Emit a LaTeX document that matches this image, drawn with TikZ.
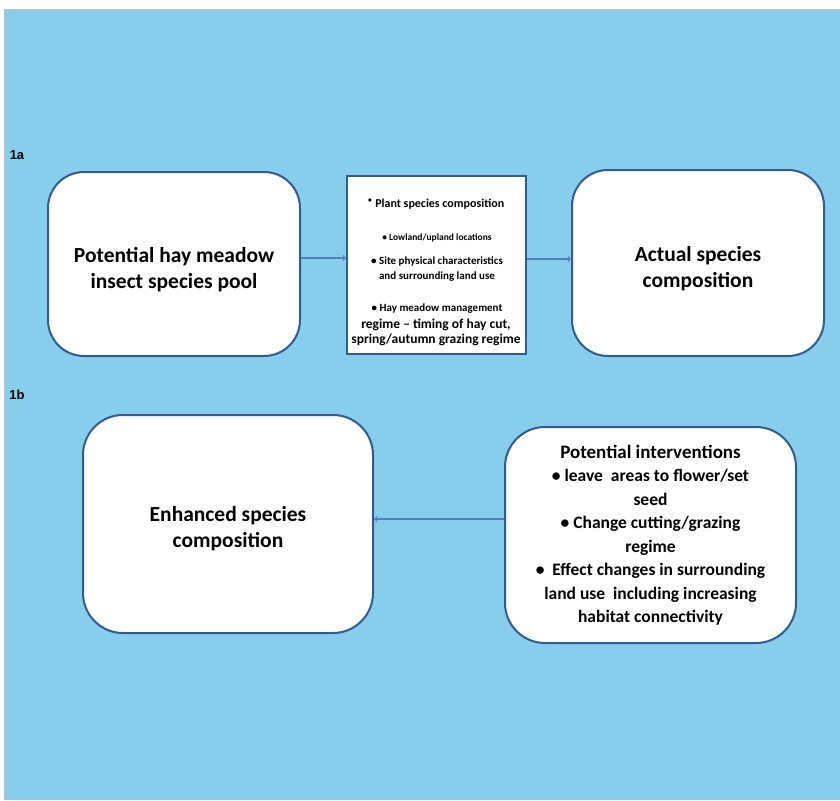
\documentclass[tikz,border=0pt]{standalone}
\usepackage{fontspec}
\setmainfont{Carlito}
\newfontfamily\labelfont{Liberation Sans}
\definecolor{bgblue}{HTML}{86CEEC}
\definecolor{edgeblue}{HTML}{2F5B96}
\definecolor{arrowblue}{HTML}{4F81BD}
\begin{document}
\begin{tikzpicture}[x=1pt,y=-1pt,
    roundbox/.style={draw=edgeblue,line width=2pt,fill=white,rounded corners=36pt,
        align=center,font=\fontsize{17.5}{23.5}\selectfont\bfseries,inner sep=0pt},
    boxtext/.style={align=center,font=\fontsize{21.5}{26}\selectfont\bfseries,inner sep=0pt},
    squarebox/.style={draw=edgeblue,line width=2pt,fill=white,inner sep=0pt},
    smalltext/.style={align=center,font=\bfseries,inner sep=0pt},
    partlabel/.style={font=\labelfont\bfseries\fontsize{13}{15}\selectfont},
    arrow/.style={->,draw=arrowblue,line width=1.2pt}
]

\useasboundingbox (0,0) rectangle (840,800);
\fill[bgblue] (4,9) rectangle (840,800);
\draw[gray!50,line width=0.8pt] (4,800) -- (4,9) -- (840,9);

\node[partlabel] (la) at (17,155) {1a};
\node[partlabel] (lb) at (17,395) {1b};

% 1a
\node[roundbox,minimum width=252pt,minimum height=184pt] (pool) at (174,264) {};
\node[boxtext] (pooltext) at ([yshift=-6pt]pool.center) {Potential hay meadow\\insect species pool};
\node[squarebox,minimum width=179pt,minimum height=178pt] (factors) at (436.5,265) {};
\node[roundbox,minimum width=252pt,minimum height=186pt] (actual) at (698,263) {};
\node[boxtext] (actualtext) at ([yshift=-6pt]actual.center) {Actual species\\composition};

\node[smalltext,font=\fontsize{12}{14}\selectfont\bfseries] (f1) at (436,204) {$^{\bullet}$ Plant species composition};
\node[smalltext,font=\fontsize{9.5}{11}\selectfont\bfseries] (f2) at (437,238) {\textbullet\ Lowland/upland locations};
\node[smalltext,font=\fontsize{11}{15}\selectfont\bfseries] (f3) at (437,269) {\textbullet\ Site physical characteristics\\and surrounding land use};
\node[smalltext,font=\fontsize{11}{13}\selectfont\bfseries] (f4) at (437,309) {\textbullet\ Hay meadow management};
\node[smalltext,font=\fontsize{13.5}{15}\selectfont\bfseries] (f5) at (436,332) {regime -- timing of hay cut,\\spring/autumn grazing regime};

% 1b
\node[roundbox,minimum width=290pt,minimum height=218pt,rounded corners=40pt] (enhanced) at (228,524) {};
\node[boxtext] (enhancedtext) at ([yshift=-5pt]enhanced.center) {Enhanced species\\composition};
\node[roundbox,minimum width=291pt,minimum height=216pt,rounded corners=40pt] (interv) at (650.5,535)
    {{\fontsize{19}{23.5}\selectfont Potential interventions}\\
     \textbullet\ leave\ \ areas to flower/set\\seed\\
     \textbullet\ Change cutting/grazing\\regime\\
     \textbullet\ \ Effect changes in surrounding\\
     land use\ \ including increasing\\habitat connectivity};

\draw[arrow] ([yshift=6pt]pool.east) -- ([yshift=6pt]pool.east -| factors.west);
\draw[arrow] ([yshift=6pt]factors.east) -- ([yshift=6pt]factors.east -| actual.west);
\draw[arrow] ([yshift=16pt]interv.west) -- ([yshift=16pt]interv.west -| enhanced.east);

\end{tikzpicture}
\end{document}
